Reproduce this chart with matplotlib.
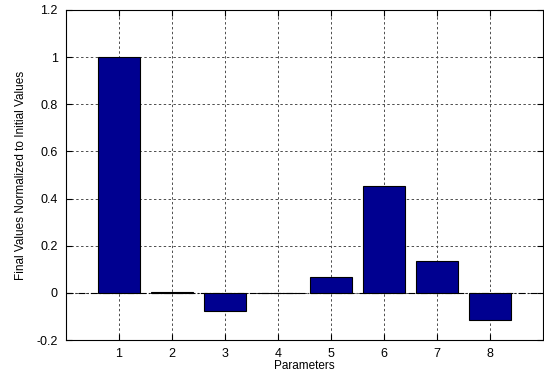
import numpy as np
import matplotlib
matplotlib.use('Agg')
import matplotlib.pyplot as plt

plt.rcParams['font.family'] = ['Liberation Sans', 'DejaVu Sans']

# Data
params = [1, 2, 3, 4, 5, 6, 7, 8]
values = [1.0, 0.002, -0.076, 0.001, 0.069, 0.455, 0.136, -0.117]
yticks = [-0.2, 0, 0.2, 0.4, 0.6, 0.8, 1, 1.2]
ytick_labels = ['-0.2', '0', '0.2', '0.4', '0.6', '0.8', '1', '1.2']

fig = plt.figure(figsize=(5.44, 3.77), dpi=100)
ax = fig.add_axes([0.1213, 0.0981, 0.8767, 0.8754])

ax.bar(params, values, width=0.8, color='#000090', edgecolor='black',
       linewidth=0.8, zorder=3)

ax.set_xlim(0, 9)
ax.set_ylim(-0.2, 1.2)
ax.set_xticks(params)
ax.set_yticks(yticks)
ax.set_yticklabels(ytick_labels)

# grid in MATLAB style
ax.grid(True, color='0.3', linestyle=(0, (2.5, 2.5)), linewidth=0.7, zorder=1)
ax.set_axisbelow(True)
ax.axhline(0, color='black', linestyle=(0, (6, 2, 1, 2)), linewidth=0.8, zorder=2)

ax.tick_params(direction='in', top=True, right=True, labelsize=9, length=4, pad=6)
for s in ax.spines.values():
    s.set_linewidth(0.8)

ax.set_xlabel('Parameters', fontsize=8.5, labelpad=0)
ax.set_ylabel('Final Values Normalized to Initial Values', fontsize=8.5, labelpad=7)

plt.savefig('out.png', dpi=100)
